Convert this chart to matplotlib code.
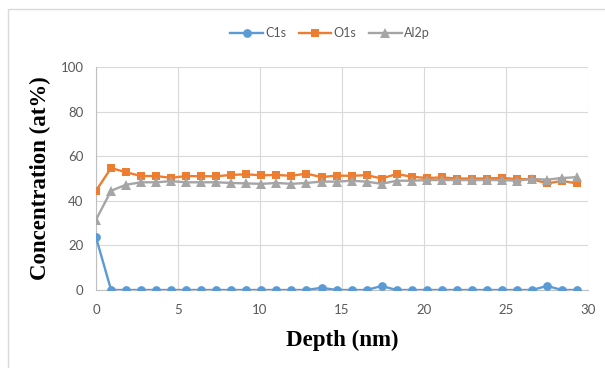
import matplotlib
matplotlib.use("Agg")
import matplotlib.pyplot as plt
from matplotlib.patches import Rectangle

depth = [0.00, 0.92, 1.83, 2.75, 3.67, 4.58, 5.50, 6.42, 7.33, 8.25, 9.17,
         10.08, 11.00, 11.92, 12.83, 13.75, 14.67, 15.58, 16.50, 17.42, 18.33,
         19.25, 20.17, 21.08, 22.00, 22.92, 23.83, 24.75, 25.67, 26.58, 27.50,
         28.42, 29.33]
c1s = [23.6, 0, 0, 0, 0, 0, 0, 0, 0, 0, 0,
       0, 0, 0, 0, 1.0, 0, 0, 0, 1.8, 0,
       0, 0, 0, 0, 0, 0, 0, 0, 0, 1.8,
       0, 0]
o1s = [44.5, 54.7, 52.8, 51.1, 51.1, 50.3, 51.1, 51.0, 51.0, 51.6, 51.9,
       51.4, 51.6, 51.2, 52.2, 50.6, 51.3, 51.2, 51.5, 50.0, 52.0,
       50.8, 50.2, 50.5, 50.0, 50.0, 50.0, 50.3, 49.7, 49.7, 47.8,
       48.9, 47.8]
al2p = [31.5, 44.5, 47.2, 48.3, 48.3, 48.8, 48.3, 48.3, 48.3, 48.0, 47.8,
        47.6, 48.0, 47.6, 48.0, 48.6, 48.6, 49.0, 48.6, 47.6, 49.0,
        49.0, 49.3, 49.3, 49.3, 49.3, 49.3, 49.3, 49.0, 49.8, 49.5,
        50.2, 50.6]
series_names = ["C1s", "O1s", "Al2p"]
x_ticks = [0, 5, 10, 15, 20, 25, 30]
y_ticks = [0, 20, 40, 60, 80, 100]

colors = ["#5B9BD5", "#ED7D31", "#A5A5A5"]
markers = ["o", "s", "^"]
msizes = [6.3, 5.6, 6.5]

W, H = 605, 368
fig = plt.figure(figsize=(W / 100, H / 100), dpi=100)
fig.patch.set_facecolor("white")

# outer chart frame
fig.patches.append(Rectangle((8 / W, -0.05), 1.2, 1 - 9 / H + 0.05,
                             transform=fig.transFigure, fill=False,
                             edgecolor="#D9D9D9", linewidth=1.0))

ax = fig.add_axes([96 / W, 1 - 290 / H, (588 - 96) / W, (290 - 67) / H])

for ys, name, c, m, ms in zip([c1s, o1s, al2p], series_names, colors,
                              markers, msizes):
    ax.plot(depth, ys, color=c, marker=m, markersize=ms, linewidth=1.7,
            markeredgewidth=0, label=name, zorder=3)

ax.set_xlim(0, 30)
ax.set_ylim(0, 100)
ax.set_xticks(x_ticks)
ax.set_yticks(y_ticks)
ax.grid(True, color="#D9D9D9", linewidth=0.8, zorder=0)
for s in ["top", "right"]:
    ax.spines[s].set_visible(False)
for s in ["left", "bottom"]:
    ax.spines[s].set_color("#BFBFBF")
    ax.spines[s].set_linewidth(0.8)
ax.tick_params(length=0, labelsize=9.5, labelcolor="#595959")
ax.tick_params(axis="x", pad=10)
ax.tick_params(axis="y", pad=9)
for lab in ax.get_xticklabels() + ax.get_yticklabels():
    lab.set_family("Lato")

ax.set_xlabel("Depth (nm)", family="Liberation Serif", fontweight="bold",
              fontsize=16.5, labelpad=10)
ax.set_ylabel("Concentration (at%)", family="Liberation Serif",
              fontweight="bold", fontsize=16.5, labelpad=7)

leg = fig.legend(loc="center", bbox_to_anchor=(330 / W, 1 - 33 / H), ncol=3,
                 frameon=False, prop={"family": "Lato", "size": 9},
                 handlelength=2.6, columnspacing=1.0, handletextpad=0.2)
for t in leg.get_texts():
    t.set_color("#595959")

fig.savefig("out.png", dpi=100)
